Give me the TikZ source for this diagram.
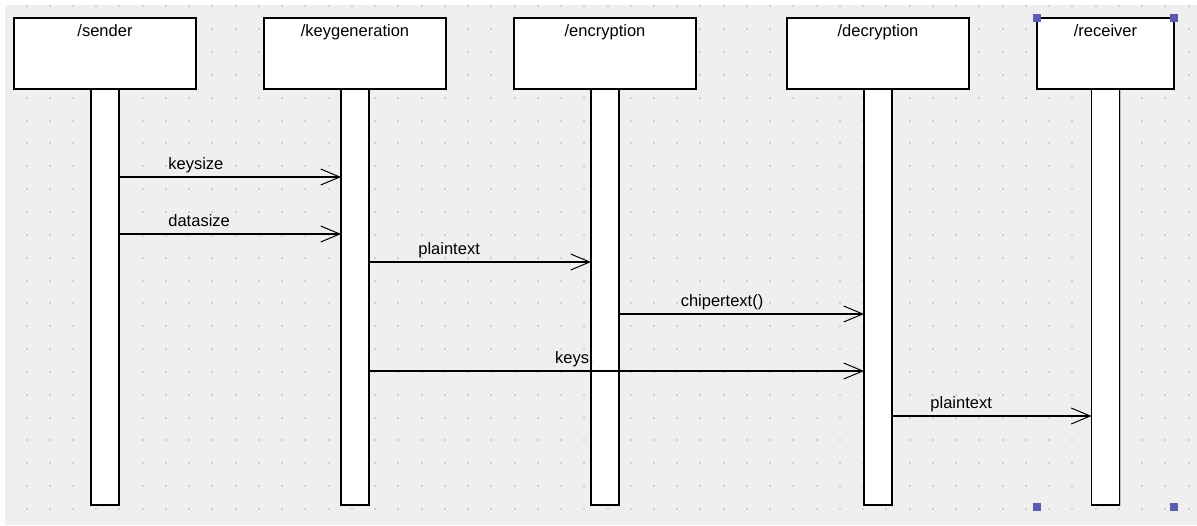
\documentclass[tikz,border=0pt]{standalone}
\usepackage{fontspec}
\setmainfont{Liberation Sans}
\usepackage{tikz}
\usetikzlibrary{positioning,shadows,arrows.meta,calc}
\definecolor{canvas}{HTML}{EFEFEF}
\definecolor{griddot}{HTML}{CFCFCF}
\definecolor{selhandle}{HTML}{5C5CB4}

\begin{document}
\begin{tikzpicture}[x=1pt,y=-1pt,font=\fontsize{16.5}{19}\selectfont,
		node distance=68pt,
		head/.style={draw, line width=1.2pt, fill=white, minimum width=182pt, inner xsep=0pt, inner ysep=0pt,
			outer sep=0pt, text height=18pt, text depth=53pt, anchor=north,
			drop shadow={shadow xshift=1.2pt, shadow yshift=-1.2pt, fill=black!25, opacity=1}},
		bar/.style={draw, line width=1.2pt, fill=white, minimum width=28pt, minimum height=416pt, inner sep=0pt,
			outer sep=0pt, anchor=north,
			drop shadow={shadow xshift=1.2pt, shadow yshift=-1.2pt, fill=black!25, opacity=1}},
		msg/.style={line width=1.1pt, -{Straight Barb[length=19pt, width=16pt, line width=1pt]}},
		lbl/.style={anchor=base west, inner sep=0pt, yshift=8pt},
		handle/.style={fill=selhandle, minimum size=8pt, inner sep=0pt}]
		\useasboundingbox (0,0) rectangle (1197,525);
		\fill[canvas] (5,5) rectangle (1197,525);
		\foreach \i in {0,...,50}
			\foreach \j in {0,...,22}
				\fill[griddot] (25.5+23.24*\i, 508-22.85*\j) rectangle +(2,2);

		\node[head] (sender) at (105,18) {/sender};
		\node[head, right=of sender] (keygen) {/keygeneration};
		\node[head, right=of keygen] (encrypt) {/encryption};
		\node[head, right=91pt of encrypt] (decrypt) {/decryption};
		\node[head, minimum width=137pt, right=of decrypt] (receiver) {/receiver};

		\node[bar] (senderbar) at (sender.south) {};
		\node[bar] (keygenbar) at (keygen.south) {};
		\node[bar] (encryptbar) at (encrypt.south) {};
		\node[bar] (decryptbar) at (decrypt.south) {};
		\node[bar] (receiverbar) at (receiver.south) {};

		\draw[msg] (senderbar.east |- 0,177) -- node[lbl, pos=.22] {keysize} (keygenbar.west |- 0,177);
		\draw[msg] (senderbar.east |- 0,234) -- node[lbl, pos=.22] {datasize} (keygenbar.west |- 0,234);
		\draw[msg] (keygenbar.east |- 0,262) -- node[lbl, pos=.22] {plaintext} (encryptbar.west |- 0,262);
		\draw[msg] (encryptbar.east |- 0,314) -- node[lbl, pos=.25] {chipertext()} (decryptbar.west |- 0,314);
		\draw[msg] (keygenbar.east |- 0,371) -- node[lbl, pos=.375] {keys,} (decryptbar.west |- 0,371);
		\draw[msg] (decryptbar.east |- 0,416) -- node[lbl, pos=.19] {plaintext} (receiverbar.west |- 0,416);

		\node[handle] (hnw) at (receiver.north west) {};
		\node[handle] (hne) at (receiver.north east) {};
		\node[handle] (hsw) at ($(receiver.west |- receiverbar.south)+(0,1.5)$) {};
		\node[handle] (hse) at ($(receiver.east |- receiverbar.south)+(0,1.5)$) {};
	\end{tikzpicture}
\end{document}
